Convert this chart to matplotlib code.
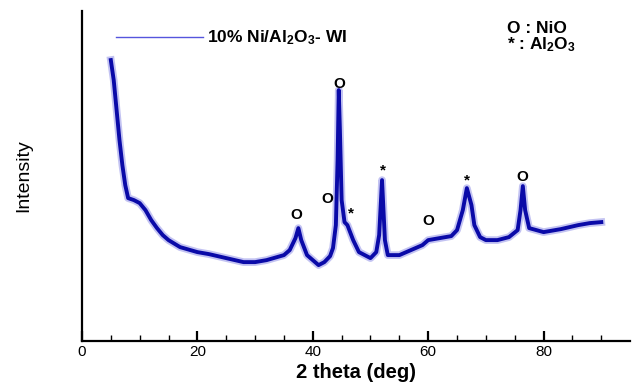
import matplotlib
matplotlib.use("Agg")
import matplotlib.pyplot as plt
from matplotlib.ticker import FixedLocator

plt.rcParams['font.family'] = ['Liberation Sans', 'DejaVu Sans']
plt.rcParams['mathtext.default'] = 'regular'

# XRD pattern (arbitrary intensity units)
two_theta = [5.0, 5.5, 6, 6.5, 7, 7.5, 8, 9, 10, 11, 12, 13, 14, 15, 17, 20, 22, 25,
             28, 30, 32, 35, 36, 37, 37.5, 38, 39, 40, 41, 42, 43, 43.5, 44, 44.3,
             44.5, 44.7, 45, 45.5, 46, 47, 48, 49, 50, 51, 51.5, 52, 52.5, 53, 55,
             57, 59, 60, 62, 64, 65, 66, 66.7, 67.5, 68, 69, 70, 72, 74, 75.5, 76,
             76.4, 76.8, 77.5, 80, 83, 86, 88, 90]
intensity = [281, 261, 231, 201, 176, 156, 143, 141, 138, 131, 121, 113, 106, 101, 94,
             89, 87, 83, 79, 79, 81, 86, 91, 103, 113, 101, 86, 81, 76, 79, 85, 93,
             116, 181, 251, 211, 141, 119, 116, 101, 89, 86, 83, 89, 106, 161, 101,
             86, 86, 91, 96, 101, 103, 105, 111, 131, 153, 136, 116, 104, 101, 101,
             104, 111, 131, 155, 131, 113, 109, 112, 116, 118, 119]

# peak labels
nio_x = [37.2, 42.6, 44.6, 60.1, 76.3]
nio_y = [126, 142, 257, 120, 164]
al2o3_x = [46.6, 52.2, 66.7]
al2o3_y = [128, 171, 161]

fig = plt.figure(figsize=(6.33, 3.82), dpi=100)
ax = fig.add_axes([0.1295, 0.107, 0.866, 0.864])

# light halo stands in for the noise band
ax.plot(two_theta, intensity, color='#6a6ae0', lw=5.5, alpha=0.4, solid_joinstyle='round')
ax.plot(two_theta, intensity, color='#0a0aa8', lw=2.8, label='10% Ni/Al$_2$O$_3$- WI')

for x, y in zip(nio_x, nio_y):
    ax.text(x, y, 'O', ha='center', va='center', fontsize=11, fontweight='bold')
for x, y in zip(al2o3_x, al2o3_y):
    ax.text(x, y, '*', ha='center', va='center', fontsize=11, fontweight='bold')

ax.set_xlim(0, 95)
ax.set_ylim(0, 330)
ax.spines['top'].set_visible(False)
ax.spines['right'].set_visible(False)
ax.spines['left'].set_linewidth(1.6)
ax.spines['bottom'].set_linewidth(1.6)
ax.set_yticks([])
ax.set_xticks([0, 20, 40, 60, 80])
ax.xaxis.set_minor_locator(FixedLocator([5, 10, 15, 25, 30, 35, 45, 50, 55, 65, 70, 75, 85, 90]))
ax.tick_params(axis='x', which='major', direction='in', length=7, width=1.6,
               labelsize=11, pad=3)
ax.tick_params(axis='x', which='minor', direction='in', length=4, width=1)

ax.set_xlabel('2 theta (deg)', fontsize=14.5, fontweight='bold', labelpad=3)
ax.set_ylabel('Intensity', fontsize=14, labelpad=36)

leg = ax.legend(loc='center left', bbox_to_anchor=(0.062, 0.918), frameon=False,
                handlelength=5.0, handletextpad=0.25, borderpad=0, borderaxespad=0,
                prop={'size': 12.5, 'weight': 'bold'})
leg.get_lines()[0].set_linewidth(1)
leg.get_lines()[0].set_color('#5555dd')

ax.text(0.776, 0.948, 'O : NiO', transform=ax.transAxes, ha='left', va='center',
        fontsize=12.5, fontweight='bold')
ax.text(0.776, 0.898, '* : Al$_2$O$_3$', transform=ax.transAxes, ha='left', va='center',
        fontsize=12.5, fontweight='bold')

fig.savefig('out.png', dpi=100)
